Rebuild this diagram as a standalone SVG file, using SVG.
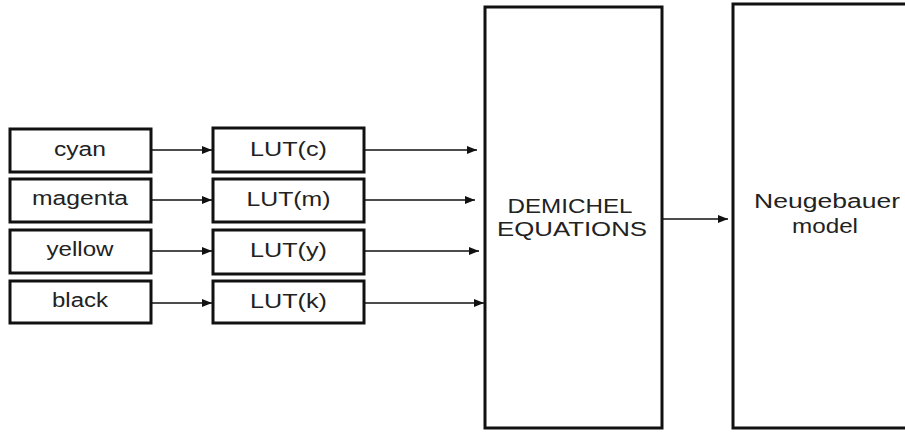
<svg xmlns="http://www.w3.org/2000/svg" width="905" height="434" viewBox="0 0 905 434">
  <style>
    .box { fill: #ffffff; stroke: #111111; stroke-width: 3; }
    .lbl { font-family: "Liberation Sans", Arial, sans-serif; font-size: 20px; fill: #222222; text-anchor: middle; }
    .wire { stroke: #111111; stroke-width: 1.6; fill: none; marker-end: url(#arrow); }
  </style>
  <defs>
    <marker id="arrow" viewBox="0 0 10 8" refX="10" refY="4" markerWidth="10" markerHeight="8" markerUnits="userSpaceOnUse" orient="auto">
      <path d="M0,0 L10,4 L0,8 Z" fill="#111111"/>
    </marker>
  </defs>
  <rect width="905" height="434" fill="#ffffff"/>

  <!-- connectors -->
  <g id="connectors">
    <line class="wire" x1="151" y1="150" x2="212" y2="150"/>
    <line class="wire" x1="151" y1="200" x2="212" y2="200"/>
    <line class="wire" x1="151" y1="251" x2="212" y2="251"/>
    <line class="wire" x1="151" y1="303" x2="212" y2="303"/>
    <line class="wire" x1="364" y1="150" x2="477" y2="150"/>
    <line class="wire" x1="364" y1="200" x2="475" y2="200"/>
    <line class="wire" x1="364" y1="251" x2="479" y2="251"/>
    <line class="wire" x1="364" y1="303" x2="484" y2="303"/>
    <line class="wire" x1="662" y1="219" x2="728" y2="219"/>
  </g>

  <!-- input channels -->
  <g id="cyan">
    <rect class="box" x="10" y="129" width="141" height="43"/>
    <text class="lbl" x="80" y="156" textLength="52" lengthAdjust="spacingAndGlyphs">cyan</text>
  </g>
  <g id="magenta">
    <rect class="box" x="10" y="179" width="141" height="43"/>
    <text class="lbl" x="80" y="205" textLength="96" lengthAdjust="spacingAndGlyphs">magenta</text>
  </g>
  <g id="yellow">
    <rect class="box" x="10" y="230" width="141" height="43"/>
    <text class="lbl" x="80" y="256" textLength="67" lengthAdjust="spacingAndGlyphs">yellow</text>
  </g>
  <g id="black">
    <rect class="box" x="10" y="281" width="141" height="42"/>
    <text class="lbl" x="80" y="307" textLength="56" lengthAdjust="spacingAndGlyphs">black</text>
  </g>

  <!-- lookup tables -->
  <g id="lut-c">
    <rect class="box" x="213" y="128" width="151" height="44"/>
    <text class="lbl" x="288.5" y="156" textLength="77" lengthAdjust="spacingAndGlyphs">LUT(c)</text>
  </g>
  <g id="lut-m">
    <rect class="box" x="213" y="179" width="151" height="43"/>
    <text class="lbl" x="288.5" y="206" textLength="84" lengthAdjust="spacingAndGlyphs">LUT(m)</text>
  </g>
  <g id="lut-y">
    <rect class="box" x="213" y="230" width="151" height="44"/>
    <text class="lbl" x="288.5" y="257" textLength="77" lengthAdjust="spacingAndGlyphs">LUT(y)</text>
  </g>
  <g id="lut-k">
    <rect class="box" x="213" y="281" width="151" height="42"/>
    <text class="lbl" x="288.5" y="308" textLength="77" lengthAdjust="spacingAndGlyphs">LUT(k)</text>
  </g>

  <!-- Demichel equations -->
  <g id="demichel">
    <rect class="box" x="485" y="7" width="177" height="421"/>
    <text class="lbl" x="570" y="213" textLength="125" lengthAdjust="spacingAndGlyphs">DEMICHEL</text>
    <text class="lbl" x="572" y="236" textLength="150" lengthAdjust="spacingAndGlyphs">EQUATIONS</text>
  </g>

  <!-- Neugebauer model -->
  <g id="neugebauer">
    <rect class="box" x="733" y="4" width="190" height="424"/>
    <text class="lbl" x="827" y="208" textLength="146" lengthAdjust="spacingAndGlyphs">Neugebauer</text>
    <text class="lbl" x="825" y="233" textLength="66" lengthAdjust="spacingAndGlyphs">model</text>
  </g>
</svg>
